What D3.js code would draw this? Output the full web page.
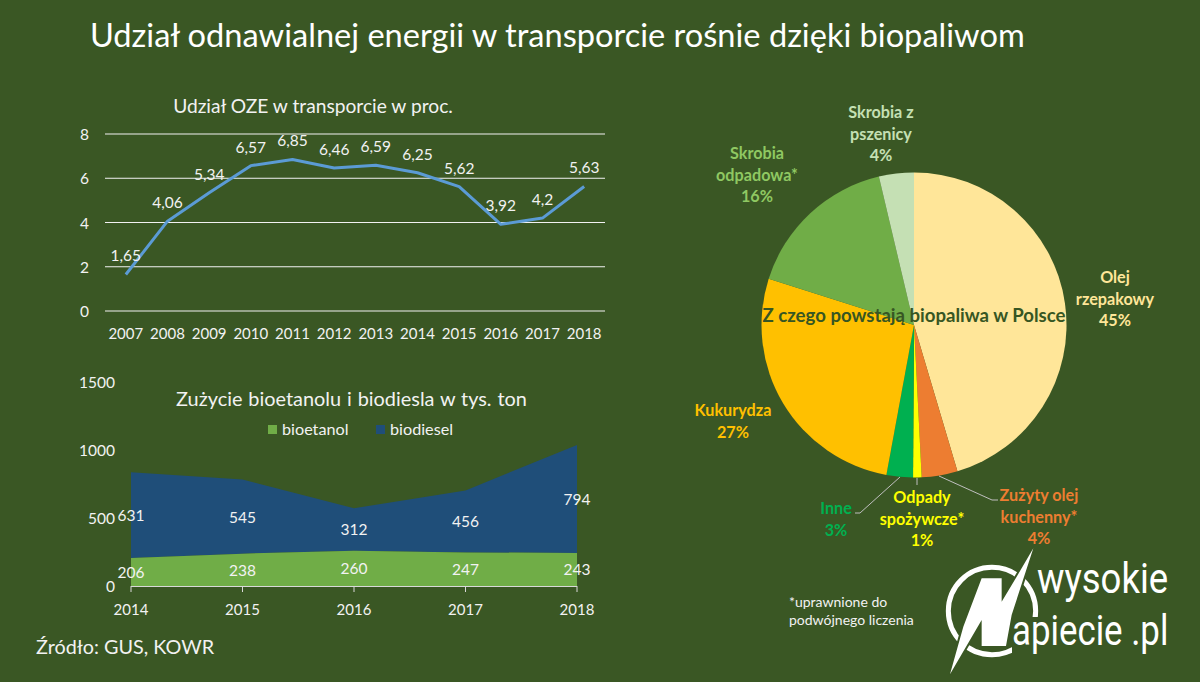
<!DOCTYPE html>
<html><head><meta charset="utf-8">
<script src="https://cdnjs.cloudflare.com/ajax/libs/d3/7.8.5/d3.min.js"></script>
<style>html,body{margin:0;padding:0;background:#3a5724}svg{display:block}text{font-family:Lato,"Open Sans",sans-serif}</style>
</head><body><svg id="c" width="1200" height="682"></svg>
<script>
const lineYears=["2007","2008","2009","2010","2011","2012","2013","2014","2015","2016","2017","2018"];
const lineValues=[1.65,4.06,5.34,6.57,6.85,6.46,6.59,6.25,5.62,3.92,4.2,5.63];
const lineTicks=[0,2,4,6,8];
const areaYears=["2014","2015","2016","2017","2018"];
const bioetanol=[206,238,260,247,243];
const biodiesel=[631,545,312,456,794];
const areaTicks=[0,500,1000,1500];
const pieNames=[["Olej","rzepakowy"],["Zużyty olej","kuchenny*"],["Odpady","spożywcze*"],["Inne"],["Kukurydza"],["Skrobia","odpadowa*"],["Skrobia z","pszenicy"]];
const pieValues=[45.4,3.8,0.9,2.8,27,16.4,3.7];
const piePercents=["45%","4%","1%","3%","27%","16%","4%"];
const pieColors=["#ffe699","#ed7d31","#ffff00","#00b050","#ffc000","#70ad47","#c5e0b4"];
const pieLabelColors=["#ffe699","#ed7d31","#ffff00","#00b050","#ffc000","#8fc862","#c5e0b4"];
const pieLabelPos=[[1115,283],[1039,501],[922,503],[836,514],[733,416],[757,159],[881,118]];

const svg=d3.select("#c"), W="#f2f2f2";
const txt=(x,y,s,size,fill=W,anchor="middle",weight=400)=>svg.append("text").attr("x",x).attr("y",y).attr("text-anchor",anchor).attr("font-size",size).attr("font-weight",weight).attr("fill",fill).text(s);

svg.append("rect").attr("width",1200).attr("height",682).attr("fill","#3a5724");
txt(90,47,"Udział odnawialnej energii w transporcie rośnie dzięki biopaliwom",32.6,"#fff","start");
txt(313,113,"Udział OZE w transporcie w proc.",19.2);

// line chart
const lx=d3.scaleBand().domain(lineYears).range([105,605]);
const ly=d3.scaleLinear().domain([0,8]).range([311,134]);
svg.append("g").selectAll("line").data(lineTicks).join("line")
 .attr("x1",105).attr("x2",605).attr("y1",d=>ly(d)).attr("y2",d=>ly(d)).attr("stroke","#f2f2f2").attr("stroke-width",1);
svg.append("g").selectAll("text").data(lineTicks).join("text").attr("x",89).attr("y",d=>ly(d)+6).attr("text-anchor","end").attr("font-size",15.5).attr("fill",W).text(d=>d);
svg.append("g").selectAll("text").data(lineYears).join("text").attr("x",d=>lx(d)+lx.bandwidth()/2).attr("y",339).attr("text-anchor","middle").attr("font-size",15).attr("fill",W).text(d=>d);
svg.append("path").datum(lineValues).attr("fill","none").attr("stroke","#5b9bd5").attr("stroke-width",3).attr("stroke-linejoin","round")
 .attr("d",d3.line().x((d,i)=>lx(lineYears[i])+lx.bandwidth()/2).y(d=>ly(d)));
svg.append("g").selectAll("text").data(lineValues).join("text").attr("x",(d,i)=>lx(lineYears[i])+lx.bandwidth()/2).attr("y",d=>ly(d)-13).attr("text-anchor","middle").attr("font-size",15.5).attr("fill",W).text(d=>String(d).replace(".",","));

// area chart
const ax=d3.scalePoint().domain(areaYears).range([131,577]);
const ay=d3.scaleLinear().domain([0,1500]).range([586,382]);
svg.append("path").datum(areaYears.map((y,i)=>i)).attr("fill","#1f4e79")
 .attr("d",d3.area().x(i=>ax(areaYears[i])).y0(i=>ay(bioetanol[i])).y1(i=>ay(bioetanol[i]+biodiesel[i])));
svg.append("path").datum(areaYears.map((y,i)=>i)).attr("fill","#70ad47")
 .attr("d",d3.area().x(i=>ax(areaYears[i])).y0(ay(0)).y1(i=>ay(bioetanol[i])));
svg.append("line").attr("x1",131).attr("x2",577).attr("y1",586.5).attr("y2",586.5).attr("stroke","#d9d9d9").attr("stroke-width",1);
svg.append("g").selectAll("line").data(areaYears).join("line").attr("x1",d=>ax(d)).attr("x2",d=>ax(d)).attr("y1",586).attr("y2",592).attr("stroke","#d9d9d9");
svg.append("g").selectAll("text").data(areaTicks).join("text").attr("x",115).attr("y",d=>ay(d)+6).attr("text-anchor","end").attr("font-size",15.5).attr("fill",W).text(d=>d);
svg.append("g").selectAll("text").data(areaYears).join("text").attr("x",d=>ax(d)).attr("y",615).attr("text-anchor","middle").attr("font-size",15).attr("fill",W).text(d=>d);
svg.append("g").selectAll("text").data(bioetanol).join("text").attr("x",(d,i)=>ax(areaYears[i])).attr("y",d=>ay(d/2)+6).attr("text-anchor","middle").attr("font-size",15.5).attr("fill",W).text(d=>d);
svg.append("g").selectAll("text").data(biodiesel).join("text").attr("x",(d,i)=>ax(areaYears[i])).attr("y",(d,i)=>ay(bioetanol[i]+d/2)+6).attr("text-anchor","middle").attr("font-size",15.5).attr("fill",W).text(d=>d);
txt(351.5,406,"Zużycie bioetanolu i biodiesla w tys. ton",19.9).attr("word-spacing",0.8);
svg.append("rect").attr("x",268).attr("y",425).attr("width",9).attr("height",9).attr("fill","#70ad47");
txt(282,435,"bioetanol",16.2,W,"start");
svg.append("rect").attr("x",376).attr("y",425).attr("width",9).attr("height",9).attr("fill","#1f4e79");
txt(390,435,"biodiesel",16.2,W,"start");
txt(36,654,"Źródło: GUS, KOWR",19.8,W,"start");

// pie
const arcs=d3.pie().sort(null)(pieValues);
const arc=d3.arc().innerRadius(0).outerRadius(152.5);
const pg=svg.append("g").attr("transform","translate(914,325)");
pg.selectAll("path").data(arcs).join("path").attr("d",arc).attr("fill",(d,i)=>pieColors[i]);
svg.append("text").attr("x",914).attr("y",322).attr("text-anchor","middle").attr("font-size",18.6).attr("font-weight",700).attr("fill","#375623").text("Z czego powstają biopaliwa w Polsce");
pieNames.forEach((lines,i)=>{
  const [x,y]=pieLabelPos[i];
  lines.concat([piePercents[i]]).forEach((s,j)=>txt(x,y+j*21.5,s,16.2,pieLabelColors[i],"middle",700));
});
const leaders=[[[900,477],[860,513],[855,513]],[[917,478],[917,485]],[[939,476],[992,500],[998,500]]];
svg.append("g").selectAll("path").data(leaders).join("path").attr("d",d3.line()).attr("fill","none").attr("stroke","#bfbfbf").attr("stroke-width",1);

txt(789,607,"*uprawnione do",14,W,"start");
txt(789,625,"podwójnego liczenia",14,W,"start");

// logo
const lg=svg.append("g").attr("transform","translate(900,540) scale(0.3333)");
lg.append("circle").attr("cx",276).attr("cy",213).attr("r",131).attr("fill","none").attr("stroke","#fff").attr("stroke-width",15);
lg.append("path").attr("d","M400,25 L335,225 L318,318 L245,318 L245,240 L150,403 L190,260 L245,115 L305,115 L305,185 L350,110 Z").attr("fill","#fff").attr("stroke","#3a5724").attr("stroke-width",12).attr("paint-order","stroke");
svg.append("rect").attr("x",1012).attr("y",617).attr("width",30).attr("height",42).attr("fill","#3a5724");
svg.append("text").attr("transform","translate(1037,593) scale(0.85,1)").attr("font-size",43).attr("fill","#fff").attr("style","font-family:Roboto").text("wysokie");
svg.append("text").attr("transform","translate(1012,645) scale(0.81,1)").attr("font-size",43).attr("fill","#fff").attr("style","font-family:Roboto").text("apiecie .pl");
</script></body></html>
